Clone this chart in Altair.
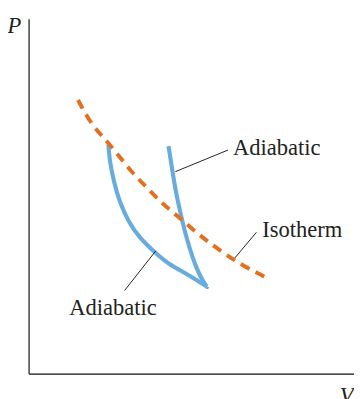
import altair as alt
import pandas as pd

# ---- values (V, P in arbitrary units 0..10) ----
iso_V = [1.52, 1.91, 2.33, 2.73, 3.18, 3.63, 4.08, 4.53, 5.05, 5.53, 6.04, 6.58, 7.30]
iso_P = [7.71, 7.04, 6.63, 6.19, 5.66, 5.25, 4.81, 4.48, 4.06, 3.70, 3.37, 3.04, 2.71]

adi1_V = [2.45, 2.51, 2.63, 2.81, 3.08, 3.43, 3.88, 4.33, 4.83, 5.24, 5.49]
adi1_P = [6.46, 5.95, 5.40, 4.84, 4.29, 3.83, 3.42, 3.09, 2.82, 2.59, 2.45]

adi2_V = [4.30, 4.41, 4.53, 4.68, 4.83, 5.04, 5.24, 5.44, 5.49]
adi2_P = [6.41, 5.77, 5.12, 4.48, 3.92, 3.28, 2.82, 2.49, 2.45]

labels = ["Adiabatic", "Isotherm", "Adiabatic"]
label_V = [6.28, 7.18, 1.25]
label_P = [6.16, 3.84, 1.66]

leader_V1 = [4.51, 6.34, 3.91]
leader_P1 = [5.69, 3.26, 3.46]
leader_V2 = [6.13, 7.00, 2.95]
leader_P2 = [6.30, 3.98, 2.34]

axis_names = ["P", "V"]
axis_name_V = [-0.65, 9.56]
axis_name_P = [9.59, -0.83]

BLUE = "#68acde"
ORANGE = "#e2701f"
FONT = "Liberation Serif"

iso = pd.DataFrame({"V": iso_V, "P": iso_P})
adi = pd.concat([
    pd.DataFrame({"V": adi1_V, "P": adi1_P, "curve": "a"}),
    pd.DataFrame({"V": adi2_V, "P": adi2_P, "curve": "b"}),
])
lab = pd.DataFrame({"text": labels, "V": label_V, "P": label_P})
lead = pd.DataFrame({"V": leader_V1, "P": leader_P1, "V2": leader_V2, "P2": leader_P2})
names = pd.DataFrame({"text": axis_names, "V": axis_name_V, "P": axis_name_P})

xs = alt.Scale(domain=[0, 10], nice=False, zero=False)
ys = alt.Scale(domain=[0, 10], nice=False, zero=False)
ax = alt.Axis(labels=False, ticks=False, grid=False, title=None,
              domainColor="#111111", domainWidth=1.2)

X = alt.X("V:Q", scale=xs, axis=ax)
Y = alt.Y("P:Q", scale=ys, axis=ax)

iso_layer = alt.Chart(iso).mark_line(
    color=ORANGE, strokeWidth=4, strokeDash=[10, 7], interpolate="basis"
).encode(x=X, y=Y)

adi_layer = alt.Chart(adi).mark_line(
    color=BLUE, strokeWidth=4.2, interpolate="natural", strokeCap="butt"
).encode(x=X, y=Y, detail="curve:N")

lead_layer = alt.Chart(lead).mark_rule(color="#222222", strokeWidth=1).encode(
    x=X, y=Y, x2="V2:Q", y2="P2:Q"
)

lab_layer = alt.Chart(lab).mark_text(
    align="left", baseline="alphabetic", font=FONT, fontSize=23, color="#222222"
).encode(x=X, y=Y, text="text:N")

name_layer = alt.Chart(names).mark_text(
    align="left", baseline="alphabetic", font=FONT, fontSize=23,
    fontStyle="italic", color="#222222"
).encode(x=X, y=Y, text="text:N")

chart = alt.layer(adi_layer, iso_layer, lead_layer, lab_layer, name_layer).properties(
    width=332, height=362,
    autosize=alt.AutoSizeParams(type="none"),
    padding={"left": 21, "top": 7, "right": 0, "bottom": 22},
    background="white",
).configure_view(stroke=None)

chart.save("out.html", embed_options={"renderer": "svg", "actions": False})
